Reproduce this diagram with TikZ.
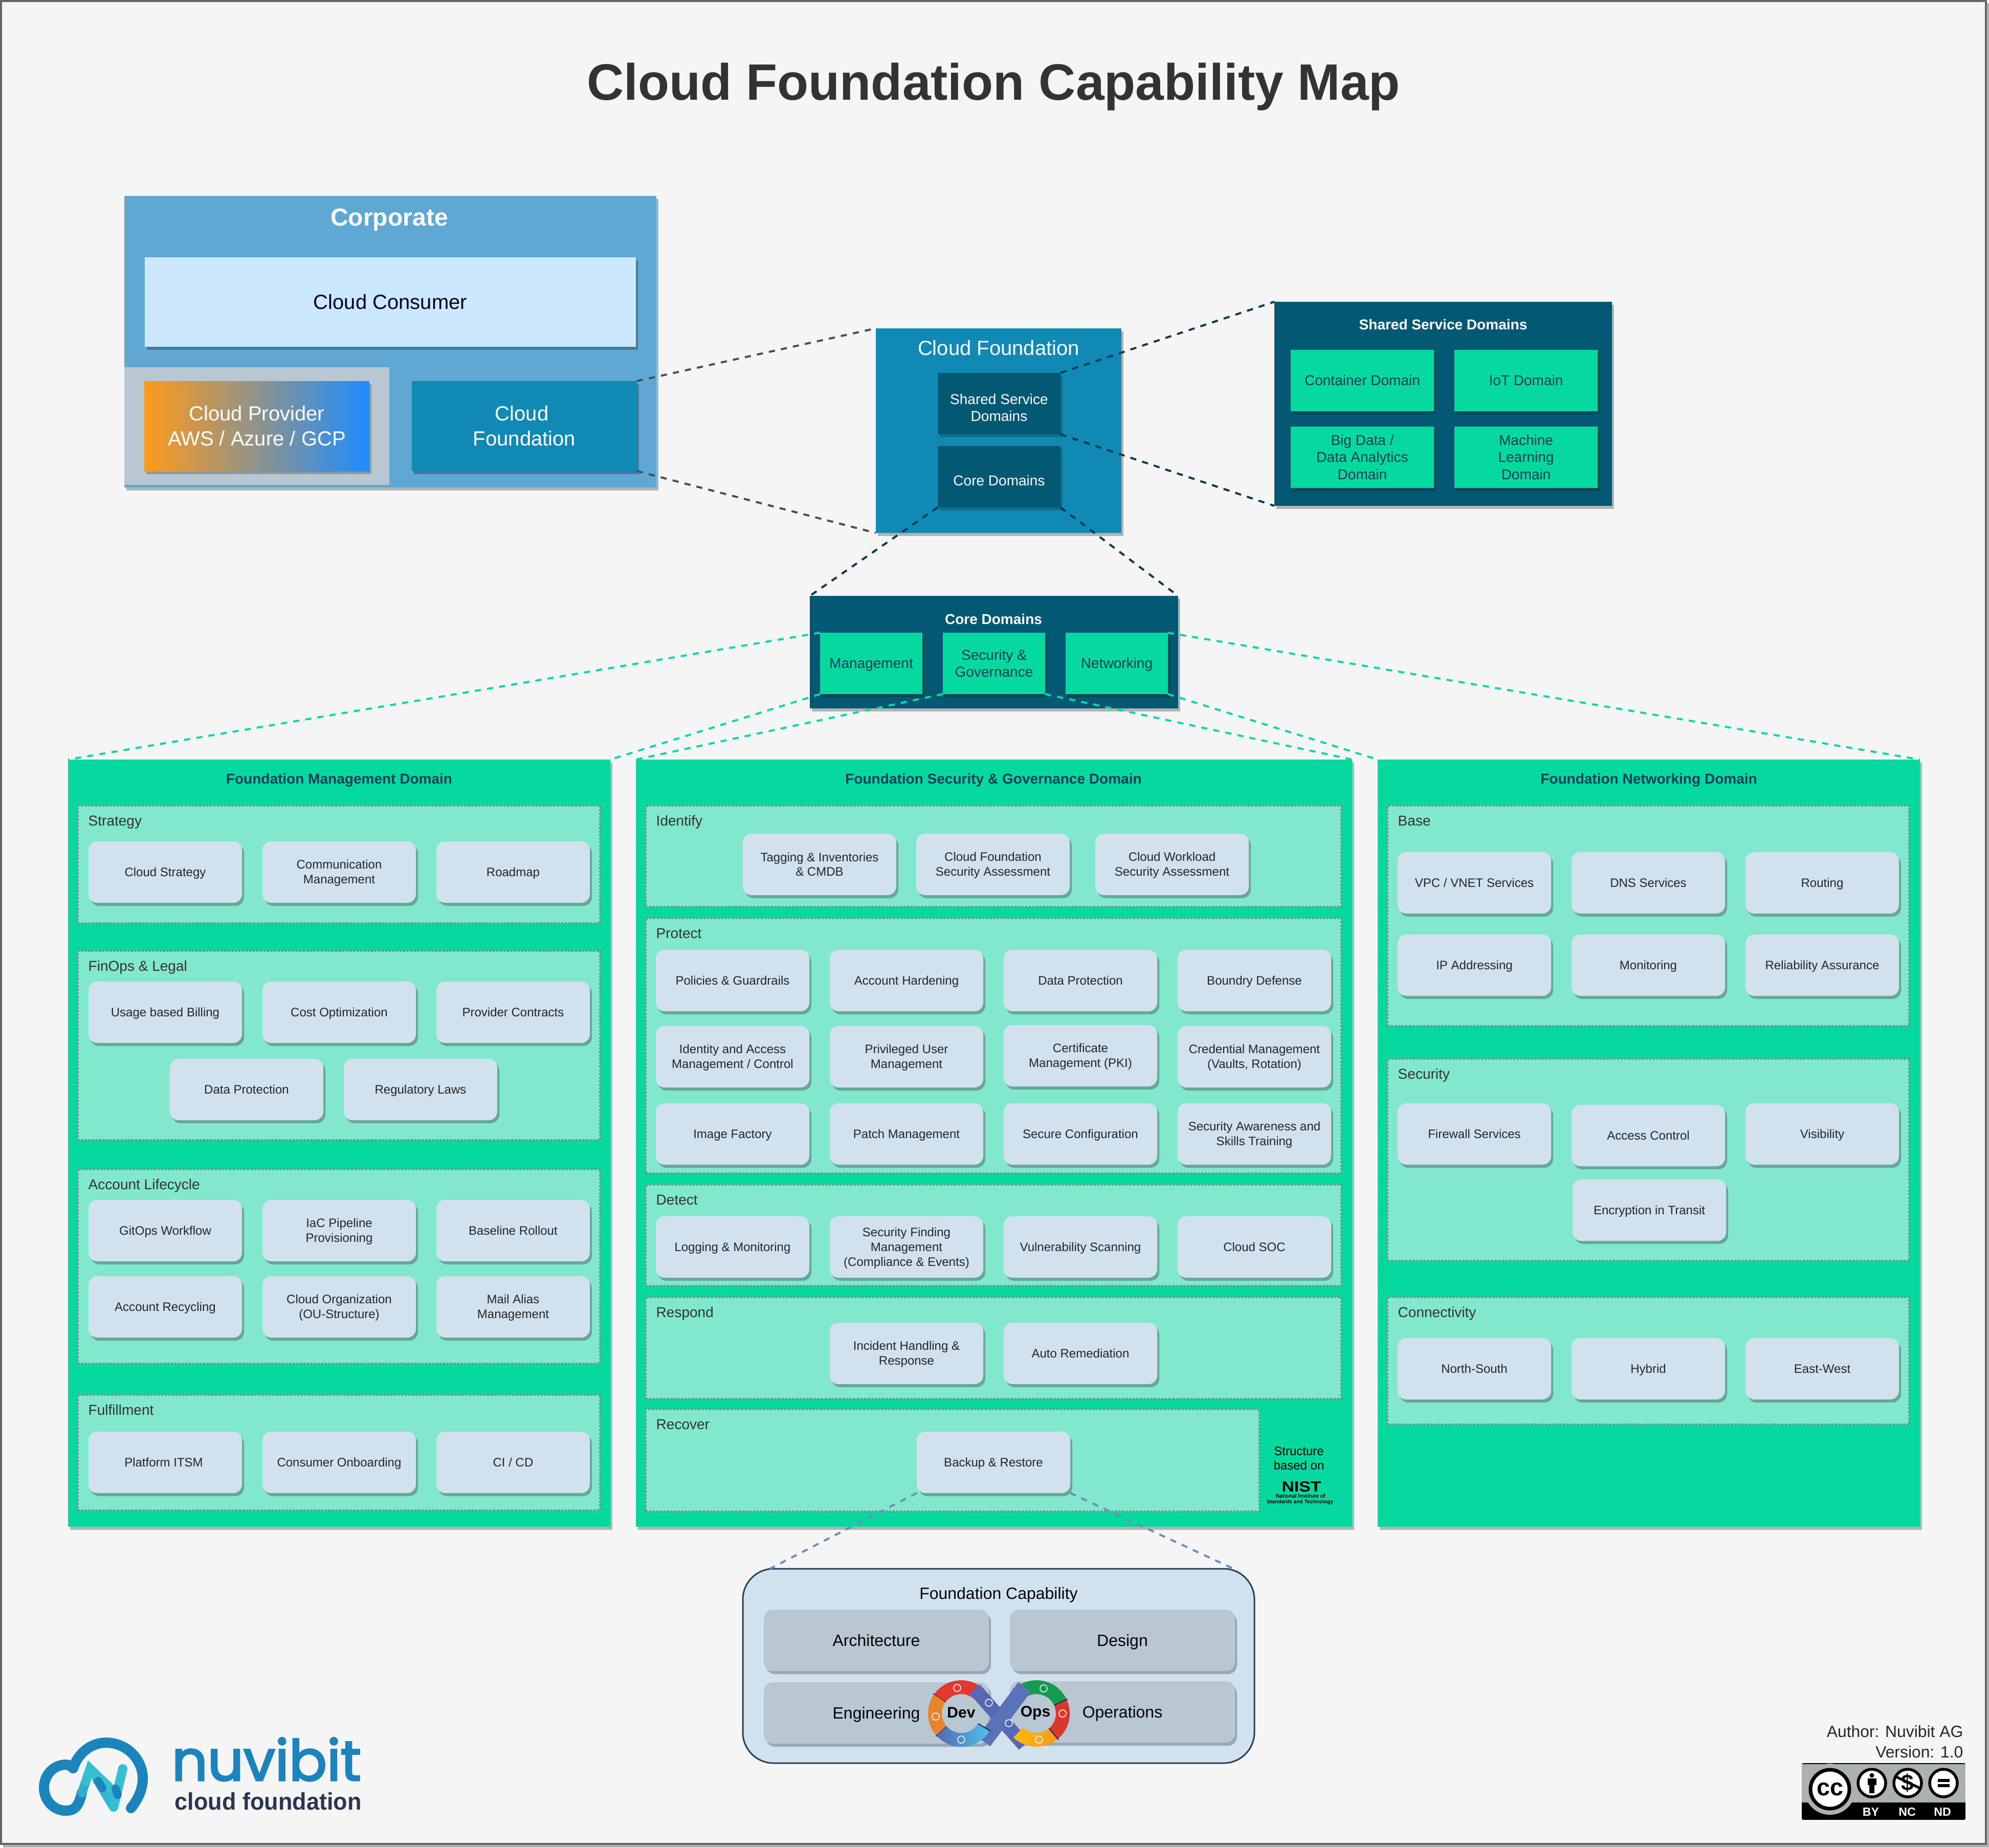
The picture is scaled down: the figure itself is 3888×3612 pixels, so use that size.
\documentclass[tikz,border=0pt]{standalone}
\usepackage{fontspec}
\setmainfont{Liberation Sans}
\newfontfamily\logofont[FakeBold=3]{Poppins}
\usetikzlibrary{shadows}
\definecolor{pagebg}{HTML}{F5F5F5}
\definecolor{pageline}{HTML}{666666}
\definecolor{pageshadow}{HTML}{B3B3B3}
\definecolor{corpblue}{HTML}{60A8D4}
\definecolor{consumer}{HTML}{CCE8FF}
\definecolor{corpshadow}{HTML}{47799D}
\definecolor{provbg}{HTML}{B9C7D2}
\definecolor{provshadow}{HTML}{8A98A4}
\definecolor{provorange}{HTML}{FF9A1A}
\definecolor{provblue}{HTML}{1E8CFF}
\definecolor{cfblue}{HTML}{1089B5}
\definecolor{cfdark}{HTML}{035874}
\definecolor{cfdarkshadow}{HTML}{0E6D90}
\definecolor{darkershadow}{HTML}{04465C}
\definecolor{domgreen}{HTML}{06D9A0}
\definecolor{seclight}{HTML}{82E8CD}
\definecolor{secline}{HTML}{5E9C8D}
\definecolor{capfill}{HTML}{D1E2EE}
\definecolor{capshadow}{HTML}{66A897}
\definecolor{fcline}{HTML}{23445D}
\definecolor{fcshadow}{HTML}{9AA8B3}
\definecolor{txtdark}{HTML}{0B3F55}
\definecolor{txtgray}{HTML}{333333}
\definecolor{linegray}{HTML}{4D4D4D}
\definecolor{linedark}{HTML}{0A3A50}
\definecolor{linefc}{HTML}{6C8EBF}
\definecolor{nublue}{HTML}{1C84BC}
\definecolor{nuturq}{HTML}{36BED1}
\definecolor{nusub}{HTML}{2B3550}
\definecolor{ccgray}{HTML}{AAB2AB}
\definecolor{lgcrossa}{HTML}{5468B3}
\definecolor{lgcrossb}{HTML}{5A72B8}
\definecolor{lgred}{HTML}{E4372F}
\definecolor{lgorange}{HTML}{E6832C}
\definecolor{lgcyan}{HTML}{4CC4EE}
\definecolor{lggreen}{HTML}{149B50}
\definecolor{lgred2}{HTML}{DC372D}
\definecolor{lgyellow}{HTML}{FFB911}
\definecolor{lgyellow2}{HTML}{F59B1D}
\definecolor{lgseam}{HTML}{1C2B4A}
\tikzset{
  x=0.01cm,y=-0.01cm,
  sh/.style={drop shadow={shadow xshift=0.04cm,shadow yshift=-0.06cm,fill=#1,opacity=1}},
  t24/.style={font=\fontsize{6.83}{8.2}\selectfont},
  t28/.style={font=\fontsize{7.97}{9.56}\selectfont},
  t32/.style={font=\fontsize{9.1}{10.93}\selectfont},
  t40/.style={font=\fontsize{11.38}{13.66}\selectfont},
  b28/.style={font=\fontsize{7.97}{9.56}\selectfont\bfseries},
  b48/.style={font=\fontsize{13.66}{16.39}\selectfont\bfseries},
  box/.style n args={2}{anchor=north west,inner sep=0pt,outer sep=0pt,align=center,minimum width=#1*0.01cm,minimum height=#2*0.01cm},
  capb/.style={box={300}{120},fill=capfill,rounded corners=0.17cm,t24,text=black!85,sh=capshadow},
  greenb/.style={box={280}{120},fill=domgreen,t28,text=txtdark,sh=darkershadow},
  coreb/.style={box={200}{120},fill=domgreen,t28,text=txtdark,sh=darkershadow},
  smallb/.style={box={240}{120},fill=cfdark,t28,text=white,sh=cfdarkshadow},
  fcb/.style={box={440}{120},fill=provbg,rounded corners=0.18cm,t32,text=black,sh=fcshadow},
  secb/.style n args={2}{box={#1}{#2},fill=seclight,draw=secline,line width=0.04cm,dash pattern=on 0.04cm off 0.03cm},
  secl/.style={anchor=west,inner sep=0pt,t28,text=txtgray},
  panel/.style n args={2}{box={#1}{#2},fill=domgreen,sh=pageshadow},
  ptitle/.style={inner sep=0pt,b28,text=txtdark},
  conn/.style={line width=0.04cm,dash pattern=on 0.12cm off 0.12cm},
  cgray/.style={conn,draw=linegray},
  cdark/.style={conn,draw=linedark},
  cgreen/.style={conn,draw=domgreen},
  cfc/.style={conn,draw=linefc},
  seam/.style={draw=lgseam,line width=0.02cm},
  ico/.style={draw=white,line width=0.015cm},
  free/.style={inner sep=0pt}
}
\newcommand\ts[1]{\rule{0pt}{.9em}#1\rule[-.2em]{0pt}{0pt}}
\newcommand\tslow[1]{\rule{0pt}{1.48em}#1\rule[-.2em]{0pt}{0pt}}
\newcommand\cb[4]{\node[capb] (#1) at (#2,#3) {\ts{#4}};}
\newcommand\sect[6]{\node[secb={#4}{#5}] (#1) at (#2,#3) {};\node[secl] (#1-l) at (#2+20,#3+30) {\ts{#6}};}
\newcommand\annsec[5]{\path[#5] ([shift={(#1,#2)}]#3:65) arc[start angle=#3,end angle=#4,radius=65] -- ([shift={(#1,#2)}]#4:38) arc[start angle=#4,end angle=#3,radius=38] -- cycle;
  \draw[seam] ([shift={(#1,#2)}]#3:38) -- ([shift={(#1,#2)}]#3:67);}
\begin{document}
\begin{tikzpicture}
\useasboundingbox (0,0) rectangle (3888,3612);
\fill[pageshadow] (6,6) rectangle (3888,3612);
\filldraw[fill=pagebg,draw=pageline,line width=0.04cm] (2,2) rectangle (3882,3605);
\node[free,font=\fontsize{28.45}{34}\selectfont\bfseries,text=txtgray] (title) at (1942,161) {\ts{Cloud Foundation Capability Map}};

% Corporate
\node[box={1040}{570},fill=corpblue,sh=pageshadow] (corp) at (243,383) {};
\node[free,b48,text=white] (corpt) at (761,425) {\ts{Corporate}};
\node[box={960}{175},fill=consumer,t40,text=black!85!blue,sh=corpshadow] (consumer) at (283,503) {\ts{Cloud Consumer}};
\node[box={518}{230},fill=provbg] (provbox) at (243,718) {};
\node[box={440}{176},left color=provorange,right color=provblue,t40,text=white,sh=provshadow] (provider) at (282,745) {\ts{Cloud Provider\\AWS / Azure / GCP}};
\node[box={440}{176},fill=cfblue,t40,text=white,sh=corpshadow] (corpcf) at (805,745) {\ts{Cloud\rule{0.1cm}{0pt}\\Foundation}};

% Cloud Foundation
\node[box={480}{400},fill=cfblue,sh=pageshadow] (cf) at (1712,642) {};
\node[free,t40,text=white] (cft) at (1952,680) {\ts{Cloud Foundation}};
\node[smallb] (ssd) at (1833,729) {\tslow{Shared Service\\Domains}};
\node[smallb] (csd) at (1833,872) {\tslow{Core Domains}};

% Shared service domains
\node[box={660}{399},fill=cfdark,sh=pageshadow] (sharedbig) at (2491,590) {};
\node[free,b28,text=white] (sharedt) at (2821,635) {\ts{Shared Service Domains}};
\node[greenb] (dom1) at (2523,684) {\ts{Container Domain}};
\node[greenb] (dom2) at (2843,684) {\ts{IoT Domain}};
\node[greenb] (dom3) at (2523,834) {\ts{Big Data /\\Data Analytics\\Domain}};
\node[greenb] (dom4) at (2843,834) {\ts{Machine\\Learning\\Domain}};

% Core domains
\node[box={720}{220},fill=cfdark,sh=pageshadow] (corebig) at (1583,1165) {};
\node[free,b28,text=white] (coret) at (1942,1211) {\ts{Core Domains}};
\node[coreb] (mgmt) at (1603,1237) {\ts{Management}};
\node[coreb] (secgov) at (1843,1237) {\ts{Security \&\\Governance}};
\node[coreb] (netw) at (2083,1237) {\ts{Networking}};

% Panels
\node[panel={1060}{1500}] (pmgmt) at (133,1485) {};
\node[panel={1400}{1500}] (psec) at (1243,1485) {};
\node[panel={1060}{1500}] (pnet) at (2693,1485) {};
\node[ptitle] (pmgmtt) at (663,1523) {\ts{Foundation Management Domain}};
\node[ptitle] (psect) at (1942,1523) {\ts{Foundation Security \& Governance Domain}};
\node[ptitle] (pnett) at (3223,1523) {\ts{Foundation Networking Domain}};

% Management
\sect{strategy}{152}{1575}{1021}{230}{Strategy}
\cb{m1}{173}{1645}{Cloud Strategy}
\cb{m2}{513}{1645}{Communication\\Management}
\cb{m3}{853}{1645}{Roadmap}
\sect{finops}{152}{1859}{1021}{370}{FinOps \& Legal}
\cb{m4}{173}{1919}{Usage based Billing}
\cb{m5}{513}{1919}{Cost Optimization}
\cb{m6}{853}{1919}{Provider Contracts}
\cb{m7}{332}{2070}{Data Protection}
\cb{m8}{672}{2070}{Regulatory Laws}
\sect{account}{152}{2286}{1021}{380}{Account Lifecycle}
\cb{m9}{173}{2346}{GitOps Workflow}
\cb{m10}{513}{2346}{IaC Pipeline\\Provisioning}
\cb{m11}{853}{2346}{Baseline Rollout}
\cb{m12}{173}{2495}{Account Recycling}
\cb{m13}{513}{2495}{Cloud Organization\\(OU-Structure)}
\cb{m14}{853}{2495}{Mail Alias\\Management}
\sect{fulfil}{152}{2727}{1021}{226}{Fulfillment}
\cb{m15}{173}{2799}{Platform ITSM\rule{0.06cm}{0pt}}
\cb{m16}{513}{2799}{Consumer Onboarding}
\cb{m17}{853}{2799}{CI / CD}

% Security
\sect{identify}{1262}{1575}{1360}{198}{Identify}
\cb{s1}{1452}{1630}{Tagging \& Inventories\\\& CMDB}
\cb{s2}{1791}{1630}{Cloud Foundation\\Security Assessment}
\cb{s3}{2141}{1630}{Cloud Workload\\Security Assessment}
\sect{protect}{1262}{1795}{1360}{499}{Protect}
\cb{s4}{1282}{1857}{Policies \& Guardrails}
\cb{s5}{1622}{1857}{Account Hardening}
\cb{s6}{1962}{1857}{Data Protection}
\cb{s7}{2302}{1857}{Boundry Defense}
\cb{s8}{1282}{2006}{Identity and Access\\Management / Control}
\cb{s9}{1622}{2006}{Privileged User\\Management}
\cb{s10}{1962}{2004}{Certificate\\Management (PKI)}
\cb{s11}{2302}{2006}{Credential Management\\(Vaults, Rotation)}
\cb{s12}{1282}{2157}{Image Factory}
\cb{s13}{1622}{2157}{Patch Management}
\cb{s14}{1962}{2157}{Secure Configuration}
\cb{s15}{2302}{2157}{Security Awareness and\\Skills Training}
\sect{detect}{1262}{2316}{1360}{198}{Detect}
\cb{s16}{1282}{2378}{Logging \& Monitoring}
\cb{s17}{1622}{2378}{Security Finding\\Management\\(Compliance \& Events)}
\cb{s18}{1962}{2378}{Vulnerability Scanning}
\cb{s19}{2302}{2378}{Cloud SOC}
\sect{respond}{1262}{2536}{1360}{199}{Respond}
\cb{s20}{1622}{2586}{Incident Handling \&\\Response}
\cb{s21}{1962}{2586}{Auto Remediation}
\sect{recover}{1262}{2755}{1200}{200}{Recover}
\cb{backup}{1792}{2799}{Backup \& Restore}
\node[free,t24,text=black,align=center] (nistt) at (2539,2851) {\ts{Structure\\based on}};
\node[free] (nistlogo) at (2544,2907) {\resizebox{0.77cm}{0.2cm}{\bfseries NIST}};
\node[free] (nist1) at (2542,2925) {\resizebox{0.97cm}{!}{\bfseries National Institute of}};
\node[free] (nist2) at (2541,2937) {\resizebox{1.3cm}{!}{\bfseries Standards and Technology}};

% Networking
\sect{base}{2712}{1575}{1020}{431}{Base}
\cb{n1}{2732}{1666}{VPC / VNET Services}
\cb{n2}{3072}{1666}{DNS Services}
\cb{n3}{3412}{1666}{Routing}
\cb{n4}{2732}{1827}{IP Addressing}
\cb{n5}{3072}{1827}{Monitoring}
\cb{n6}{3412}{1827}{Reliability Assurance}
\sect{netsec}{2712}{2070}{1020}{395}{Security}
\cb{n7}{2732}{2157}{Firewall Services}
\cb{n8}{3072}{2160}{Access Control}
\cb{n9}{3412}{2157}{Visibility}
\cb{n10}{3074}{2306}{Encryption in Transit}
\sect{connect}{2712}{2536}{1020}{249}{Connectivity}
\cb{n11}{2732}{2616}{North-South}
\cb{n12}{3072}{2616}{Hybrid}
\cb{n13}{3412}{2616}{East-West}

% Foundation capability
\node[box={1000}{380},fill=capfill,draw=fcline,line width=0.03cm,rounded corners=0.6cm] (fcap) at (1452,3067) {};
\node[free,t32,text=black] (fcapt) at (1952,3115) {\ts{Foundation Capability}};
\node[fcb] (arch) at (1493,3147) {\ts{Architecture}};
\node[fcb] (design) at (1974,3147) {\ts{Design}};
\node[fcb] (eng) at (1493,3289) {\ts{Engineering}};
\node[fcb] (ops) at (1974,3287) {\ts{Operations}};

% DevOps logo
\begin{scope}[shift={(0,3350)},x=0.01cm,y=0.01cm]
  \annsec{1879}{0}{145}{44}{fill=lgred}
  \annsec{1879}{0}{222}{145}{fill=lgorange}
  \annsec{2026}{0}{133}{25}{fill=lggreen}
  \annsec{2026}{0}{25}{-50}{fill=lgred2}
\end{scope}
\draw[line width=0.27cm,draw=lgcrossa] (1905,3302) -- (2002,3412);
\draw[line width=0.31cm,draw=lgcrossb] (1923,3405) -- (2003,3298);
\begin{scope}[shift={(0,3350)},x=0.01cm,y=0.01cm]
  \annsec{1879}{0}{329}{222}{left color=lgcrossa,right color=lgcyan}
  \annsec{2026}{0}{-50}{-134}{left color=lgyellow,right color=lgyellow2}
\end{scope}
\foreach \cx/\cy in {1871/3300,1829/3356,1879/3401,1933/3329,1972/3369,2040/3301,2077/3350,2031/3401}
  \draw[ico] (\cx,\cy) circle[radius=7];
\node[free,font=\fontsize{8.54}{10}\selectfont\bfseries,text=black] (devt) at (1879,3348) {\ts{Dev}};
\node[free,font=\fontsize{8.54}{10}\selectfont\bfseries,text=black] (opst) at (2024,3346) {\ts{Ops}};

% Nuvibit logo
\draw[nublue,line width=0.2cm,line cap=round] (256,3535) .. controls (270,3518) and (279,3498) .. (279,3477) .. controls (279,3440) and (248,3407) .. (207,3407) .. controls (178,3407) and (152,3428) .. (143,3457);
\draw[nublue,line width=0.2cm,line cap=round] (143,3457) .. controls (138,3453) and (134,3450) .. (129,3450) .. controls (105,3450) and (86,3470) .. (86,3495) .. controls (86,3520) and (105,3540) .. (129,3540) .. controls (150,3540) and (155,3525) .. (160,3505);
\draw[nuturq!75!nublue,line width=0.18cm,line cap=round] (160,3505) -- (168,3482);
\draw[nuturq!85!nublue,line width=0.18cm,line cap=round] (222,3533) -- (189,3478);
\draw[nuturq,line width=0.18cm,line cap=round] (168,3482) -- (176,3458) -- (228,3508);
\draw[nuturq,line width=0.18cm,line cap=round] (240,3458) -- (222,3533);
\draw[nublue,line width=0.16cm,line cap=round] (192,3482) -- (200,3496);
\draw[nublue,line width=0.16cm,line cap=round] (226,3497) -- (230,3509);
\node[free,anchor=base west,text=nublue] (nuv) at (335,3481) {\resizebox{3.7cm}{!}{\logofont nuvibit}};
\node[free,anchor=base west,text=nusub] (nuvsub) at (341,3538) {\resizebox{3.65cm}{0.34cm}{\bfseries cloud foundation}};

% Author and licence
\node[free,anchor=east,align=right,font=\fontsize{9.05}{11.38}\selectfont,text=black!85] (author) at (3838,3405) {\ts{Author: Nuvibit AG\\Version: 1.0}};
\begin{scope}
  \path[clip,rounded corners=0.03cm] (3522,3447) rectangle (3842,3558);
  \fill[ccgray] (3522,3447) rectangle (3842,3558);
  \fill[black] (3522,3524) rectangle (3842,3558);
  \draw[black,line width=0.03cm] (3522,3447) -- (3842,3447);
  \fill[ccgray] (3577,3498) circle[radius=50];
\end{scope}
\filldraw[fill=white,draw=black,line width=0.07cm] (3577,3498) circle[radius=38];
\node[free,font=\fontsize{13.3}{16}\selectfont\bfseries,text=black] (cclabel) at (3577,3498) {cc};
\foreach \cx in {3659,3729,3799}
  \filldraw[fill=white,draw=black,line width=0.055cm] (\cx,3486) circle[radius=27];
\fill[black] (3659,3471) circle[radius=4.5];
\fill[black] (3651,3477) rectangle (3668,3490);
\fill[black] (3654,3490) rectangle (3664,3506);
\node[free,font=\fontsize{12.5}{15}\selectfont\bfseries,text=black] (dollar) at (3729,3486) {\$};
\draw[black,line width=0.05cm] (3705,3473) -- (3755,3497);
\fill[black] (3788,3478) rectangle (3811,3484);
\fill[black] (3788,3488) rectangle (3811,3494);
\node[free,font=\fontsize{6.6}{8}\selectfont\bfseries,text=white] (by) at (3657,3542) {BY};
\node[free,font=\fontsize{6.6}{8}\selectfont\bfseries,text=white] (nc) at (3728,3542) {NC};
\node[free,font=\fontsize{6.6}{8}\selectfont\bfseries,text=white] (nd) at (3797,3542) {ND};

% Connectors
\draw[cgray] (corpcf.north east) -- (cf.north west);
\draw[cgray] (corpcf.south east) -- (cf.south west);
\draw[cdark] (ssd.north east) -- (sharedbig.north west);
\draw[cdark] (ssd.south east) -- (sharedbig.south west);
\draw[cdark] (csd.south west) -- (corebig.north west);
\draw[cdark] (csd.south east) -- (corebig.north east);
\draw[cgreen] (mgmt.north west) -- (pmgmt.north west);
\draw[cgreen] (mgmt.south west) -- (pmgmt.north east);
\draw[cgreen] (secgov.south west) -- (psec.north west);
\draw[cgreen] (secgov.south east) -- (psec.north east);
\draw[cgreen] (netw.north east) -- (pnet.north east);
\draw[cgreen] (netw.south east) -- (pnet.north west);
\coordinate (fcl) at (1505,3067);
\coordinate (fcr) at (2420,3071);
\draw[cfc] (backup.south west) -- (fcl);
\draw[cfc] (backup.south east) -- (fcr);
\end{tikzpicture}
\end{document}
